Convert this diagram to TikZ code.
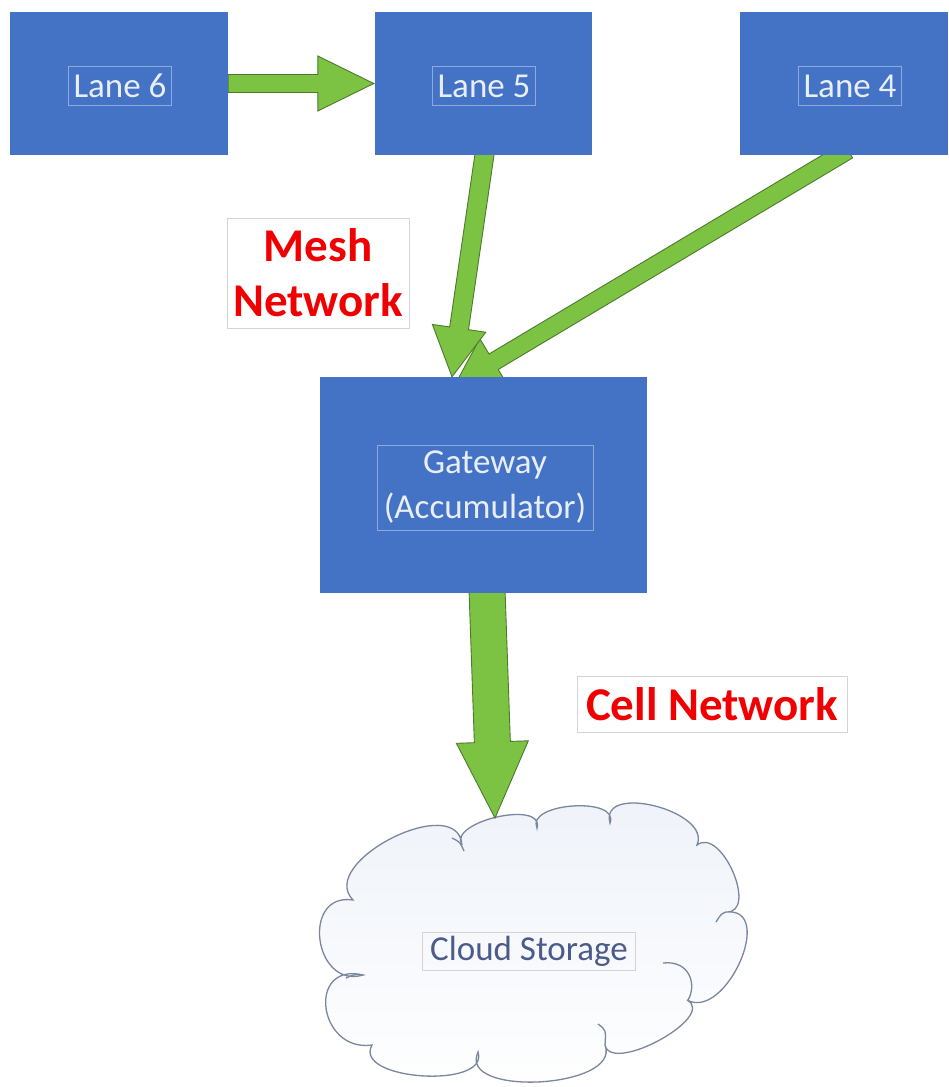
\documentclass[tikz,border=0pt]{standalone}
\usepackage{fontspec}
\setmainfont{Carlito}
\usetikzlibrary{calc,backgrounds}
\definecolor{boxblue}{HTML}{4472C4}
\definecolor{argreen}{HTML}{7CC243}
\definecolor{ardark}{HTML}{4E7A2E}
\definecolor{lanetext}{HTML}{E8EEF8}
\definecolor{innerframe}{HTML}{8EA9DB}
\definecolor{outframe}{HTML}{D4D4D4}
\definecolor{netred}{HTML}{F00000}
\definecolor{cloudline}{HTML}{7A879E}
\definecolor{cloudtext}{HTML}{4A5B8C}
\definecolor{cloudtop}{HTML}{EEF2F9}
\tikzset{
 bluebox/.style={rectangle, fill=boxblue, draw=none, inner sep=0pt},
 boxtext/.style={rectangle, draw=innerframe, line width=0.6pt, text=lanetext, inner sep=0pt, align=center, font=\fontsize{35}{45}\selectfont},
 nettext/.style={rectangle, draw=outframe, fill=white, line width=0.8pt, text=netred, inner sep=0pt, align=center, font=\fontsize{47}{55}\selectfont\bfseries},
 cloudlabel/.style={rectangle, draw=outframe, line width=0.6pt, text=cloudtext, inner sep=0pt, font=\fontsize{35}{43}\selectfont},
 greenarrow/.style={fill=argreen, draw=ardark, line width=0.9pt, line join=miter},
 cloudshape/.style={top color=cloudtop, bottom color=white, draw=cloudline, line width=1.3pt},
 cloudinner/.style={draw=cloudline, line width=1.3pt},
}
\newcommand\blockarrow[6]{%
  \coordinate (#6) at ($(#2)!#5!(#1)$);
  \draw[greenarrow] ($(#1)!#3!90:(#2)$) -- ($(#6)!#3!90:(#2)$) -- ($(#6)!#4!90:(#2)$) -- (#2) -- ($(#6)!#4!-90:(#2)$) -- ($(#6)!#3!-90:(#2)$) -- ($(#1)!#3!-90:(#2)$) -- cycle;}
\begin{document}
\begin{tikzpicture}[x=1pt,y=-1pt]
\useasboundingbox (0,0) rectangle (948,1087);
% boxes
\node[bluebox, minimum width=218pt, minimum height=143pt] (l6) at (119,83.5) {};
\node[boxtext, minimum width=103pt, minimum height=39pt] (t6) at (120,86) {Lane 6};
\node[bluebox, minimum width=217pt, minimum height=143pt] (l5) at (483.5,83.5) {};
\node[boxtext, minimum width=103pt, minimum height=39pt] (t5) at (484,86) {Lane 5};
\node[bluebox, minimum width=208pt, minimum height=143pt] (l4) at (844,83.5) {};
\node[boxtext, minimum width=103pt, minimum height=39pt] (t4) at (850,86) {Lane 4};
\node[bluebox, minimum width=327pt, minimum height=216pt] (gw) at (483.5,485) {};
\node[boxtext, minimum width=216pt, minimum height=85pt] (tgw) at (485,487.5) {Gateway\\(Accumulator)};
% labels
\node[nettext, minimum width=182pt, minimum height=110pt] (mesh) at (318,273) {Mesh\\Network};
\node[nettext, minimum width=270pt, minimum height=56pt] (cell) at (712,704) {Cell Network};
% connector end points
\coordinate (a1s) at (l6.east);
\coordinate (a1e) at ([xshift=-1pt]l5.west);
\coordinate (a2s) at ([xshift=1.5pt,yshift=4pt]l5.south);
\coordinate (a2e) at ([xshift=-31.5pt]gw.north);
\coordinate (a3s) at ([xshift=4pt,yshift=5pt]l4.south);
\coordinate (a3e) at ([xshift=-28.5pt,yshift=-8pt]gw.north);
\coordinate (a4s) at ([xshift=3.5pt,yshift=4pt]gw.south);
\coordinate (ctop) at (495,818);
\begin{scope}[on background layer]
\fill[white] (0,0) rectangle (948,1087);
% cloud
\path[cloudshape] (363,975)
 .. controls (313.8,989.5) and (300.8,892.0) .. (353,900)
 .. controls (316.0,862.2) and (457.7,790.7) .. (462,845)
 .. controls (447.4,821.5) and (544.9,799.4) .. (537,828)
 .. controls (525.3,802.7) and (620.2,796.2) .. (610,823)
 .. controls (598.9,782.3) and (712.0,810.9) .. (697,845)
 .. controls (721.3,826.2) and (759.0,913.3) .. (726,912)
 .. controls (776.5,906.7) and (725.8,1021.1) .. (687,1000)
 .. controls (717.9,1016.4) and (611.3,1074.9) .. (605,1045)
 .. controls (622.0,1088.4) and (456.9,1097.5) .. (478,1052)
 .. controls (489.9,1089.5) and (352.1,1080.4) .. (372,1045)
 .. controls (318.0,1052.7) and (306.3,961.7) .. (363,975)
 -- cycle;
\draw[cloudinner] (663,963) .. controls (690,960) and (697,985) .. (688,1000);
\draw[cloudinner] (598,1024) .. controls (606,1030) .. (605,1045);
\draw[cloudinner] (452,838) .. controls (460,842) .. (464,851);
\draw[cloudinner] (363,975) .. controls (355,974) .. (346,978);
\draw[cloudinner] (726,912) .. controls (721,914) .. (716,922);
% arrows
\blockarrow{a3s}{a3e}{9pt}{27pt}{45pt}{h3}
\blockarrow{a2s}{a2e}{9.5pt}{27pt}{49pt}{h2}
\blockarrow{a1s}{a1e}{9pt}{27.5pt}{56pt}{h1}
\blockarrow{a4s}{ctop}{18pt}{36pt}{76pt}{h4}
\end{scope}
\node[cloudlabel, minimum width=213pt, minimum height=38pt] (cs) at (529,951) {Cloud Storage};
\end{tikzpicture}
\end{document}
